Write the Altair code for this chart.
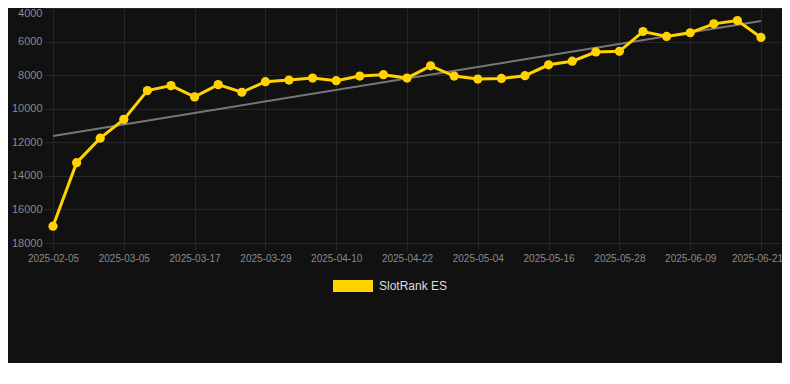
import altair as alt
import pandas as pd

dates = ["2025-02-05", "2025-02-25", "2025-03-01", "2025-03-05", "2025-03-09", "2025-03-13",
         "2025-03-17", "2025-03-21", "2025-03-25", "2025-03-29", "2025-04-02", "2025-04-06",
         "2025-04-10", "2025-04-14", "2025-04-18", "2025-04-22", "2025-04-26", "2025-04-30",
         "2025-05-04", "2025-05-08", "2025-05-12", "2025-05-16", "2025-05-20", "2025-05-24",
         "2025-05-28", "2025-06-01", "2025-06-05", "2025-06-09", "2025-06-13", "2025-06-17",
         "2025-06-21"]
ranks = [17000, 13215, 11755, 10635, 8920, 8625, 9295, 8565, 9020, 8390, 8295, 8175,
         8330, 8055, 7975, 8175, 7445, 8055, 8235, 8195, 8035, 7385, 7170, 6620,
         6580, 5400, 5695, 5475, 4945, 4750, 5755]
series_name = "SlotRank ES"
y_ticks = [4000, 6000, 8000, 10000, 12000, 14000, 16000, 18000]
x_tick_idx = list(range(0, 31, 3))

df = pd.DataFrame({"idx": list(range(len(dates))), "date": dates, "rank": ranks,
                   "series": [series_name] * len(dates)})

YELLOW = "#FFD200"
GRID = "#262626"
LABEL = "#8a8a8a"
label_expr = "[" + ",".join(f"'{d}'" for d in dates) + "][datum.value]"
last_idx = len(dates) - 1

x_enc = alt.X("idx:Q",
              scale=alt.Scale(domain=[0, 30.89], nice=False, zero=False),
              axis=alt.Axis(values=x_tick_idx, labelExpr=label_expr, title=None,
                            grid=True, gridColor=GRID, domain=False,
                            tickColor=GRID, tickSize=7, labelPadding=3,
                            labelOverlap=False, labelBound=False, labelFlush=False,
                            labelOffset={"condition": {"test": f"datum.value == {last_idx}", "value": -4},
                                         "value": 0},
                            labelColor=LABEL, labelFontSize=10, labelFont="Liberation Sans"))
y_enc = alt.Y("rank:Q",
              scale=alt.Scale(domain=[4000, 18000], reverse=True, nice=False, zero=False),
              axis=alt.Axis(values=y_ticks, format="d", title=None, grid=True, gridColor=GRID,
                            domain=False, tickColor=GRID, tickSize=9, labelPadding=2,
                            labelFlush=False, labelOverlap=False,
                            labelOffset={"condition": {"test": f"datum.value == {y_ticks[0]}", "value": 5},
                                         "value": 0},
                            labelColor=LABEL, labelFontSize=11, labelFont="Liberation Sans"))

base = alt.Chart(df)

trend = base.transform_regression("idx", "rank", method="linear").mark_line(
    color="#777777", strokeWidth=2
).encode(x=x_enc, y=y_enc)

color_enc = alt.Color("series:N", scale=alt.Scale(range=[YELLOW]),
                      legend=alt.Legend(title=None, orient="none", legendX=280, legendY=258,
                                        symbolType="M-1,-0.3L1,-0.3L1,0.3L-1,0.3Z",
                                        symbolSize=1600, symbolFillColor=YELLOW,
                                        symbolStrokeWidth=0, labelColor="#dddddd",
                                        labelFontSize=12, labelFont="Liberation Sans",
                                        labelOffset=6))

line = base.mark_line(strokeWidth=3).encode(x=x_enc, y=y_enc, color=color_enc)
points = base.mark_circle(size=85, opacity=1).encode(x=x_enc, y=y_enc, color=color_enc)

chart = alt.layer(trend, line, points).properties(
    width=729, height=235,
    background="#111111",
    autosize=alt.AutoSizeParams(type="none"),
    padding={"left": 45, "top": 0, "right": 0, "bottom": 120},
).configure_view(stroke=None)

chart.save("out.html", embed_options={"renderer": "svg", "actions": False})
